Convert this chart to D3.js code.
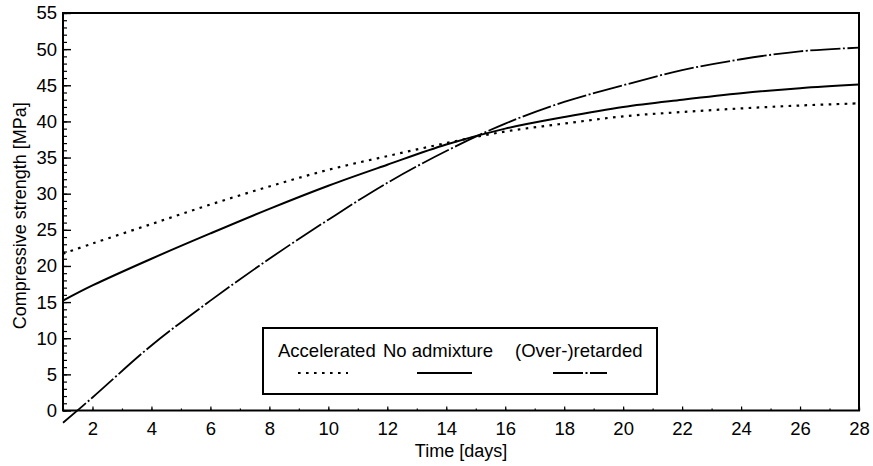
<!DOCTYPE html>
<html>
<head>
<meta charset="utf-8">
<script src="https://cdn.jsdelivr.net/npm/d3@7"></script>
<style>
  body { margin: 0; background: #fff; }
  svg { display: block; font-family: "Liberation Sans", Arial, Helvetica, sans-serif; }
</style>
</head>
<body>
<div id="chart"></div>
<script>
/* strength development of concrete with / without admixtures */

// data
const days        = [1, 2, 4, 6, 8, 10, 12, 14, 16, 18, 20, 22, 24, 26, 28];
const accelerated = [21.7, 23.1, 25.8, 28.5, 31.0, 33.3, 35.2, 37.0, 38.6, 39.7, 40.7, 41.3, 41.8, 42.2, 42.5];
const noAdmixture = [15.2, 17.3, 21.0, 24.5, 27.9, 31.1, 34.0, 36.8, 39.0, 40.6, 42.0, 43.0, 43.9, 44.6, 45.1];
const retarded    = [-1.7, 1.8, 9.0, 15.2, 21.0, 26.4, 31.5, 35.9, 39.7, 42.7, 45.0, 47.1, 48.6, 49.7, 50.2];

const seriesNames = ["Accelerated", "No admixture", "(Over-)retarded"];
const xTicks = [2, 4, 6, 8, 10, 12, 14, 16, 18, 20, 22, 24, 26, 28];
const yTicks = [0, 5, 10, 15, 20, 25, 30, 35, 40, 45, 50, 55];

const width = 873, height = 466,
  margin = { top: 13, right: 14, bottom: 55.5, left: 63 };

const svg = d3.select("#chart")
  .append("svg")
  .attr("width", width)
  .attr("height", height)
  .attr("viewBox", [0, 0, width, height]);

const x = d3.scaleLinear()
  .domain([1, 28])
  .range([margin.left, width - margin.right]);

const y = d3.scaleLinear()
  .domain([0, 55])
  .range([height - margin.bottom, margin.top]);

// line styles per series
const styles = [
  { dash: "2.6,5.4", w: 2.2 },
  { dash: null, w: 2 },
  { dash: "30,2.5,2,2.5", w: 1.8 }
];

const series = [accelerated, noAdmixture, retarded].map((vals, i) => ({
  name: seriesNames[i],
  points: days.map((d, j) => ({ day: d, v: vals[j] })),
  style: styles[i]
}));

/* minor ticks, every 1 unit, pointing inward */
svg.append("g")
  .attr("transform", `translate(${margin.left},0)`)
  .call(d3.axisLeft(y).ticks(55).tickSize(-4).tickFormat(""))
  .call(g => g.select(".domain").remove())
  .call(g => g.selectAll("line").attr("stroke-width", 1.2));

svg.append("g")
  .attr("transform", `translate(0,${y(0)})`)
  .call(d3.axisBottom(x).ticks(27).tickSize(-2).tickFormat(""))
  .call(g => g.select(".domain").remove())
  .call(g => g.selectAll("line").attr("stroke-width", 1.2));

/* major ticks with labels */
svg.append("g")
  .attr("transform", `translate(${margin.left},0)`)
  .call(d3.axisLeft(y).tickValues(yTicks).tickSize(-8).tickPadding(6))
  .call(g => g.select(".domain").remove())
  .call(g => g.selectAll("line").attr("stroke-width", 1.4))
  .call(g => g.selectAll("text").attr("font-size", 18.5).attr("fill", "#000").attr("font-family", null));

svg.append("g")
  .attr("transform", `translate(0,${y(0)})`)
  .call(d3.axisBottom(x).tickValues(xTicks).tickSize(-4).tickPadding(11))
  .call(g => g.select(".domain").remove())
  .call(g => g.selectAll("line").attr("stroke-width", 1.2))
  .call(g => g.selectAll("text").attr("font-size", 18.5).attr("fill", "#000").attr("font-family", null));

/* frame */
svg.append("rect")
  .attr("x", x(1))
  .attr("y", y(55))
  .attr("width", x(28) - x(1))
  .attr("height", y(0) - y(55))
  .attr("fill", "none")
  .attr("stroke", "#000")
  .attr("stroke-width", 2);

/* curves */
svg.append("clipPath").attr("id", "clip")
  .append("rect")
  .attr("x", x(1) - 4).attr("y", 0)
  .attr("width", x(28) - x(1) + 4).attr("height", height);

const line = d3.line()
  .x(d => x(d.day))
  .y(d => y(d.v))
  .curve(d3.curveCatmullRom);

svg.append("g")
  .attr("clip-path", "url(#clip)")
  .selectAll("path")
  .data(series)
  .join("path")
  .attr("fill", "none")
  .attr("stroke", "#000")
  .attr("stroke-width", d => d.style.w)
  .attr("stroke-dasharray", d => d.style.dash)
  .attr("d", d => line(d.points));

/* legend */
const legend = svg.append("g");
legend.append("rect")
  .attr("x", 263).attr("y", 328)
  .attr("width", 394).attr("height", 66)
  .attr("fill", "#fff")
  .attr("stroke", "#000")
  .attr("stroke-width", 2);

const legendTextX = [278, 383, 515];
const legendLineX = [[298, 348], [417, 472], [553, 607]];

legend.selectAll("text")
  .data(series)
  .join("text")
  .attr("x", (d, i) => legendTextX[i])
  .attr("y", 357)
  .attr("font-size", 18.5)
  .text(d => d.name);

legend.selectAll("line")
  .data(series)
  .join("line")
  .attr("x1", (d, i) => legendLineX[i][0])
  .attr("x2", (d, i) => legendLineX[i][1])
  .attr("y1", 373).attr("y2", 373)
  .attr("stroke", "#000")
  .attr("stroke-width", d => d.style.w)
  .attr("stroke-dasharray", d => d.style.dash);

/* axis titles */
svg.append("text")
  .attr("x", (x(1) + x(28)) / 2)
  .attr("y", 457)
  .attr("text-anchor", "middle")
  .attr("font-size", 18)
  .text("Time [days]");

svg.append("text")
  .attr("transform", `translate(26,${(y(0) + y(55)) / 2 + 4}) rotate(-90)`)
  .attr("text-anchor", "middle")
  .attr("font-size", 18)
  .text("Compressive strength [MPa]");
</script>
</body>
</html>
